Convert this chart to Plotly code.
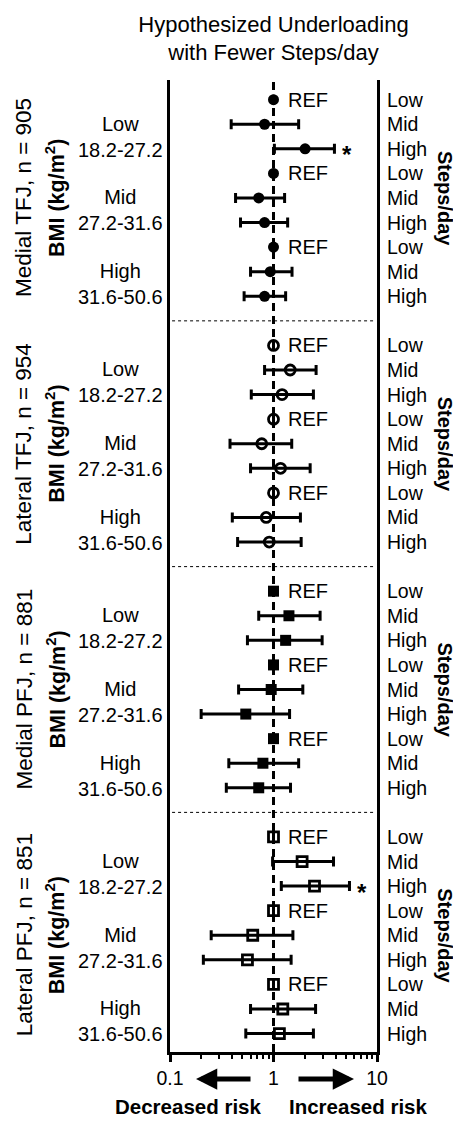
import math
import plotly.graph_objects as go

# ---------------- data ----------------
panel_names = ["Medial TFJ, n = 905", "Lateral TFJ, n = 954",
               "Medial PFJ, n = 881", "Lateral PFJ, n = 851"]
bmi_groups = ["Low", "Mid", "High"]
bmi_ranges = ["18.2-27.2", "27.2-31.6", "31.6-50.6"]
steps_levels = ["Low", "Mid", "High"]

# odds ratios, order per panel: BMI Low (REF, Mid, High), BMI Mid (...), BMI High (...)
medial_tfj_or = [1, 0.82, 2.02, 1, 0.72, 0.82, 1, 0.93, 0.82]
medial_tfj_lo = [None, 0.39, 1.02, None, 0.43, 0.48, None, 0.60, 0.52]
medial_tfj_hi = [None, 1.75, 3.88, None, 1.28, 1.37, None, 1.51, 1.31]

lateral_tfj_or = [1, 1.45, 1.21, 1, 0.77, 1.17, 1, 0.85, 0.91]
lateral_tfj_lo = [None, 0.82, 0.61, None, 0.38, 0.60, None, 0.40, 0.45]
lateral_tfj_hi = [None, 2.58, 2.43, None, 1.50, 2.26, None, 1.82, 1.85]

medial_pfj_or = [1, 1.41, 1.31, 1, 0.95, 0.54, 1, 0.79, 0.72]
medial_pfj_lo = [None, 0.72, 0.56, None, 0.46, 0.20, None, 0.37, 0.35]
medial_pfj_hi = [None, 2.82, 2.95, None, 1.92, 1.43, None, 1.75, 1.46]

lateral_pfj_or = [1, 1.89, 2.49, 1, 0.63, 0.56, 1, 1.23, 1.14]
lateral_pfj_lo = [None, 0.98, 1.19, None, 0.25, 0.21, None, 0.60, 0.54]
lateral_pfj_hi = [None, 3.80, 5.42, None, 1.54, 1.48, None, 2.55, 2.43]

significant = [[2], [], [], [2]]   # row index within panel marked with *

x_tickvals = [0.1, 1, 10]
x_ticktext = ["0.1", "1", "10"]
x_minor = [0.2, 0.3, 0.4, 0.5, 0.6, 0.7, 0.8, 0.9, 2, 3, 4, 5, 6, 7, 8, 9]

panels = [
    (medial_tfj_or, medial_tfj_lo, medial_tfj_hi, "circle", 11),
    (lateral_tfj_or, lateral_tfj_lo, lateral_tfj_hi, "circle-open", 10),
    (medial_pfj_or, medial_pfj_lo, medial_pfj_hi, "square", 11),
    (lateral_pfj_or, lateral_pfj_lo, lateral_pfj_hi, "square-open", 10),
]

FONT = "Liberation Sans, Arial, sans-serif"
ROWS_PER_PANEL = 10
Y_RANGE = [38.75, -0.8]
BODY = 8  # default page body margin offset

fig = go.Figure()

# reference line at OR = 1
fig.add_trace(go.Scatter(x=[1, 1], y=Y_RANGE, mode="lines",
                         line=dict(color="black", width=3, dash="8px,5px"),
                         hoverinfo="skip", showlegend=False))

annotations = []
shapes = []
PX_L, PX_R = 170.0, 377.0
PLOT_T, PLOT_B = 80.0, 1052.0
def px2paper(px):
    return (px - PX_L) / (PX_R - PX_L)
def py2paper(py):
    return (PLOT_B - py) / (PLOT_B - PLOT_T)

def ann(**kw):
    kw.setdefault("showarrow", False)
    kw.setdefault("xanchor", "center")
    kw.setdefault("yanchor", "middle")
    annotations.append(kw)

for p, (orv, lo, hi, sym, msize) in enumerate(panels):
    ys = [p * ROWS_PER_PANEL + r for r in range(len(orv))]
    plus = [None if h is None else h - o for o, h in zip(orv, hi)]
    minus = [None if l is None else o - l for o, l in zip(orv, lo)]
    open_sym = sym.endswith("open")
    fig.add_trace(go.Scatter(
        x=orv, y=ys, mode="markers",
        marker=dict(symbol=sym, size=msize, color="black",
                    line=dict(color="black", width=2.8 if open_sym else 0)),
        error_x=dict(type="data", array=plus, arrayminus=minus, symmetric=False,
                     color="black", thickness=3, width=5),
        showlegend=False, hoverinfo="skip"))

    for r in range(len(orv)):
        y = p * ROWS_PER_PANEL + r
        if lo[r] is None:
            ann(x=math.log10(orv[r]), y=y, xref="x", yref="y", text="REF",
                xanchor="left", xshift=12, font=dict(size=20))
        ann(x=px2paper(385), y=y, xref="paper", yref="y",
            text=steps_levels[r % 3], xanchor="left", font=dict(size=19.5))
    for r in significant[p]:
        ann(x=math.log10(hi[r]), y=p * ROWS_PER_PANEL + r, xref="x", yref="y",
            text="<b>*</b>", xshift=13, yshift=-6, font=dict(size=24))

    for g in range(3):
        ann(x=px2paper(120), y=p * ROWS_PER_PANEL + 3 * g + 1.5,
            xref="paper", yref="y", text=f"{bmi_groups[g]}<br>{bmi_ranges[g]}",
            align="center", font=dict(size=20))
    yc = p * ROWS_PER_PANEL + 4
    ann(x=px2paper(24), y=yc, xref="paper", yref="y", text=panel_names[p],
        textangle=-90, font=dict(size=22.5))
    ann(x=px2paper(55), y=yc, xref="paper", yref="y",
        text="<b>BMI (kg/m<sup>2</sup>)</b>", textangle=-90, font=dict(size=21.5))
    ann(x=px2paper(445), y=yc, xref="paper", yref="y",
        text="<b>Steps/day</b>", textangle=90, font=dict(size=20))
    if p < len(panels) - 1:
        ysep = p * ROWS_PER_PANEL + 9
        shapes.append(dict(type="line", xref="paper", yref="y", x0=0.01, x1=0.99,
                           y0=ysep, y1=ysep,
                           line=dict(color="black", width=1, dash="dot")))

# bottom arrows and risk labels
ann(x=px2paper(196), y=py2paper(1079), xref="paper", yref="paper",
    ax=56, ay=0, text="", showarrow=True, arrowhead=2,
    arrowsize=0.85, arrowwidth=5, arrowcolor="black")
ann(x=px2paper(354), y=py2paper(1079), xref="paper", yref="paper",
    ax=-57, ay=0, text="", showarrow=True, arrowhead=2,
    arrowsize=0.85, arrowwidth=5, arrowcolor="black")
ann(x=px2paper(188), y=py2paper(1106), xref="paper", yref="paper",
    text="<b>Decreased risk</b>", font=dict(size=20.5))
ann(x=px2paper(358), y=py2paper(1106), xref="paper", yref="paper",
    text="<b>Increased risk</b>", font=dict(size=20.5))

W, H = 461, 1121
fig.update_layout(
    width=W, height=H,
    margin=dict(l=PX_L - BODY, r=W - (PX_R - BODY), t=PLOT_T - BODY,
                b=H - (PLOT_B - BODY), pad=0),
    paper_bgcolor="white", plot_bgcolor="white",
    font=dict(family=FONT, color="black", size=20),
    title=dict(text="Hypothesized Underloading<br>with Fewer Steps/day",
               x=0.5, xref="paper", xanchor="center",
               y=1 - (31.5 - BODY) / H, yref="container", yanchor="middle",
               font=dict(size=22)),
    xaxis=dict(type="log", range=[-1, 1], showgrid=False, zeroline=False,
               showline=True, linewidth=3, linecolor="black",
               tickvals=x_tickvals, ticktext=x_ticktext,
               ticks="outside", ticklen=7, tickwidth=3, tickcolor="black",
               tickfont=dict(size=19.5),
               minor=dict(tickvals=x_minor, ticks="outside", ticklen=4,
                          tickwidth=2, tickcolor="black", showgrid=False)),
    yaxis=dict(range=Y_RANGE, showgrid=False, zeroline=False,
               showline=True, mirror=True, linewidth=3, linecolor="black",
               showticklabels=False, ticks=""),
    annotations=annotations, shapes=shapes,
)

fig.write_html("out.html")
